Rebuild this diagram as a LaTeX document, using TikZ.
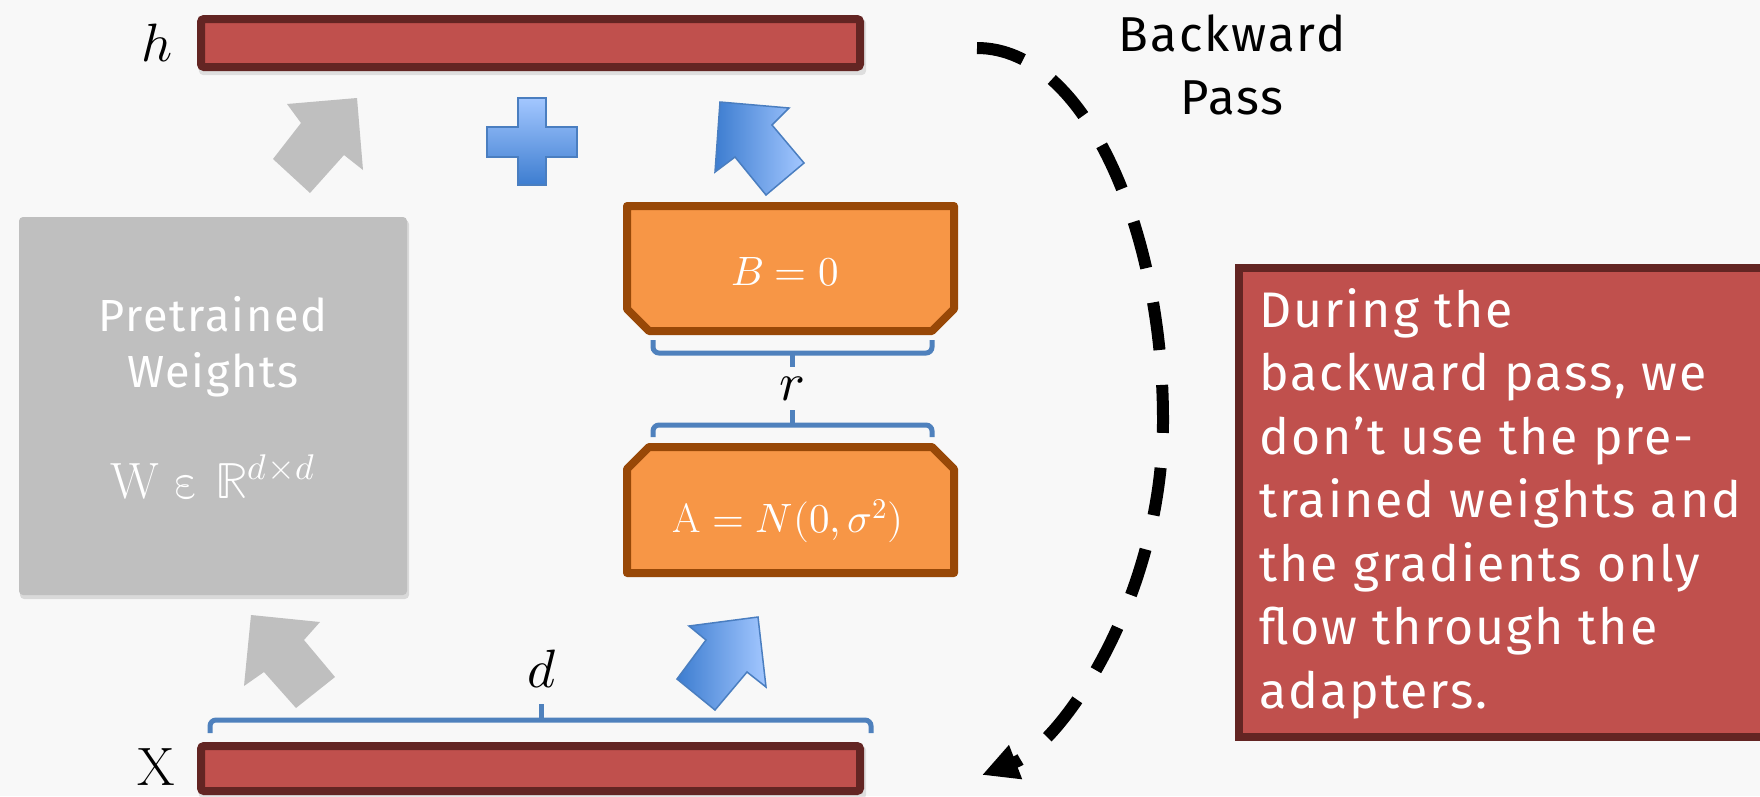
\documentclass[tikz,border=0pt]{standalone}
\usepackage{fontspec}
\usepackage{unicode-math}
\newfontfamily\uifont[LetterSpace=4]{Fira Sans}
\usetikzlibrary{arrows.meta}
\definecolor{bgc}{HTML}{F8F8F8}
\definecolor{barfill}{HTML}{C0504D}
\definecolor{barline}{HTML}{632523}
\definecolor{grayfill}{HTML}{BFBFBF}
\definecolor{orfill}{HTML}{F79646}
\definecolor{orline}{HTML}{984807}
\definecolor{brblue}{HTML}{4F81BD}
\definecolor{bldark}{HTML}{3D7DD0}
\definecolor{bllight}{HTML}{A3C7FF}
\definecolor{blline}{HTML}{4A7EC0}
\begin{document}
\begin{tikzpicture}[x=1pt,y=-1pt,
  bar/.style={draw=barline,fill=barfill,line width=8pt,rounded corners=3pt,minimum width=659pt,inner sep=0pt},
  mlabel/.style={inner sep=0pt,font=\fontsize{54}{60}\selectfont},
  ortxt/.style={inner sep=0pt,text=white,font=\fontsize{41}{50}\selectfont},
  orbox/.style={draw=orline,fill=orfill,line width=8pt,line join=round},
  brace/.style={draw=brblue,line width=5pt,rounded corners=6pt},
  grayarrow/.style={fill=grayfill},
  bluearrow/.style={left color=bldark,right color=bllight,draw=blline,line width=1.5pt},
  wtxt/.style={inner sep=0pt,anchor=base,text=white,font=\uifont\fontsize{45}{54}\selectfont},
  notetxt/.style={inner sep=0pt,anchor=base west,text=white,font=\uifont\fontsize{50}{60}\selectfont},
  bwtxt/.style={inner sep=0pt,anchor=base,font=\uifont\fontsize{49}{60}\selectfont}
]
\fill[bgc] (0,0) rectangle (1760,796);
\useasboundingbox (0,0) rectangle (1760,796);

% bars
\fill[black,opacity=0.1,rounded corners=4pt] (199,19) rectangle (866,75);
\node[bar,minimum height=48pt] (hbar) at (530.5,43) {};
\fill[black,opacity=0.1,rounded corners=4pt] (199,746) rectangle (866,799);
\node[bar,minimum height=45pt] (xbar) at (530.5,768.5) {};
\node[mlabel] (hlab) at (157,43) {$h$};
\node[mlabel] (xlab) at (156,767) {$\mathrm{X}$};

% pretrained weights box
\fill[black,opacity=0.12,rounded corners=4pt] (20,220) rectangle (409,599);
\node[fill=grayfill,rounded corners=4pt,minimum width=388pt,minimum height=378pt,inner sep=0pt] (wbox) at (213,406) {};
\node[wtxt] (pt1) at (213,331) {Pretrained};
\node[wtxt] (pt2) at (213,387) {Weights};
\node[inner sep=0pt,anchor=base,text=white,font=\fontsize{51}{60}\selectfont] (wmath) at (213,498) {$\mathrm{W}\;\symup{\varepsilon}\;\mathbb{R}^{d\times d}$};

% orange boxes
\draw[orbox] (627,206) -- (954,206) -- (954,309) -- (932,331) -- (649,331) -- (627,309) -- cycle;
\node[ortxt] (btxt) at (785,272) {$B=0$};
\draw[orbox] (627,469) -- (649,447) -- (932,447) -- (954,469) -- (954,573) -- (627,573) -- cycle;
\node[ortxt] (atxt) at (788,521) {$\mathrm{A}=N(0,\sigma^2)$};

% braces
\draw[brace] (653,340) -- (653,353) -- (932,353) -- (932,340);
\draw[brace] (792,353) -- (792,367);
\node[mlabel] (rlab) at (792,389) {$r$};
\draw[brace] (653,437) -- (653,425) -- (932,425) -- (932,437);
\draw[brace] (792,425) -- (792,410);
\draw[brace] (210,733) -- (210,720) -- (871,720) -- (871,733);
\draw[brace] (541,720) -- (541,704);
\node[mlabel] (dlab) at (542,669) {$d$};

% block arrows
\fill[grayarrow] (287,104) -- (357,98) -- (363,170) -- (344,155) -- (310,193) -- (273,159) -- (301,123) -- cycle;
\shadedraw[bluearrow] (720,102) -- (789,108) -- (772,125) -- (804,163) -- (766,195) -- (735,157) -- (715,172) -- cycle;
\fill[grayarrow] (251,615) -- (320,622) -- (304,640) -- (335,677) -- (296,708) -- (264,672) -- (244,686) -- cycle;
\shadedraw[bluearrow] (758,617) -- (766,687) -- (747,672) -- (715,710) -- (677,679) -- (706,640) -- (689,626) -- cycle;

% plus
\shadedraw[top color=bllight,bottom color=bldark,draw=blline,line width=1.5pt]
  (518,98) -- (546,98) -- (546,127) -- (577,127) -- (577,157) -- (546,157) -- (546,185) -- (518,185) -- (518,157) -- (487,157) -- (487,127) -- (518,127) -- cycle;

% backward pass
\coordinate (bpS) at (977,48);
\coordinate (bpE) at (982,775);
\draw[line width=12pt,dash pattern=on 48pt off 35pt,-{Triangle[length=36pt,width=34pt]}]
  (bpS) .. controls (1085,48) and (1163,230) .. (1163,420) .. controls (1163,600) and (1060,745) .. (bpE);
\node[bwtxt] (bw1) at (1232,51) {Backward};
\node[bwtxt] (bw2) at (1232,114) {Pass};

% note box
\node[draw=barline,fill=barfill,line width=8pt,minimum width=537pt,minimum height=469pt,inner sep=0pt] (note) at (1507.5,502.5) {};
\node[notetxt] (n1) at (1259,327) {During the};
\node[notetxt] (n2) at (1259,390.5) {backward pass, we};
\node[notetxt] (n3) at (1259,454) {don’t use the pre-};
\node[notetxt] (n4) at (1259,517.5) {trained weights and};
\node[notetxt] (n5) at (1259,581) {the gradients only};
\node[notetxt] (n6) at (1259,644.5) {flow through the};
\node[notetxt] (n7) at (1259,708) {adapters.};
\end{tikzpicture}
\end{document}
